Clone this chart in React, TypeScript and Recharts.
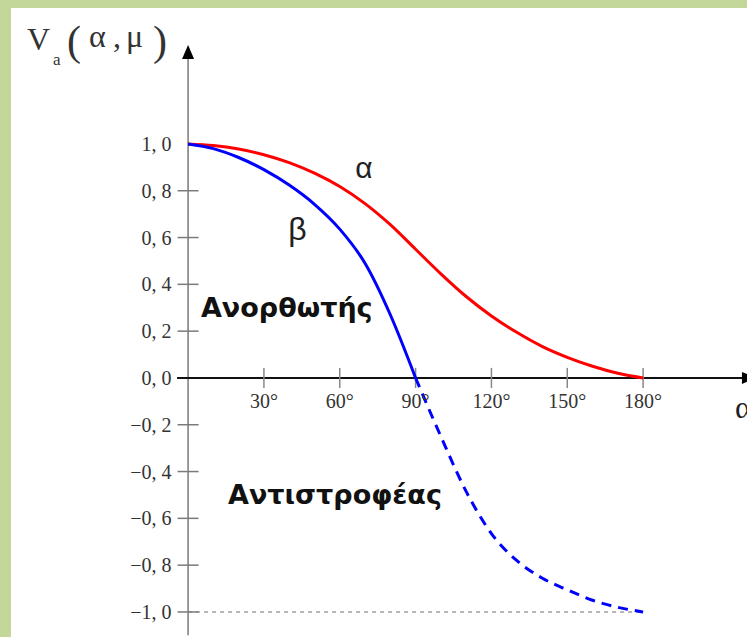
import React from "react";
import { LineChart, Line, XAxis, YAxis, ReferenceLine, ReferenceDot } from "recharts";

// firing angle (degrees)
const angles = [0, 10, 20, 30, 40, 50, 60, 70, 80, 90, 100, 110, 120, 130, 140, 150, 160, 170, 180];
// curve α (red)
const alphaCurve = [1.0, 0.993, 0.978, 0.954, 0.92, 0.875, 0.818, 0.745, 0.655, 0.55, 0.445, 0.348, 0.265, 0.195, 0.135, 0.088, 0.05, 0.02, 0];
// curve β, rectifier part 0°..90° (solid blue)
const rectifierAngles = [0, 10, 20, 30, 40, 50, 60, 70, 80, 90];
const betaRectifier = [1.0, 0.98, 0.942, 0.89, 0.824, 0.742, 0.636, 0.49, 0.27, 0];
// curve β, inverter part 90°..180° (dashed blue)
const inverterAngles = [90, 100, 110, 120, 130, 140, 150, 160, 170, 180];
const betaInverter = [0, -0.25, -0.485, -0.665, -0.78, -0.855, -0.905, -0.95, -0.98, -1.0];

const yTicks = [1, 0.8, 0.6, 0.4, 0.2, 0, -0.2, -0.4, -0.6, -0.8, -1];
const yTickLabels = ["1, 0", "0, 8", "0, 6", "0, 4", "0, 2", "0, 0", "−0, 2", "−0, 4", "−0, 6", "−0, 8", "−1, 0"];
const xTicks = [30, 60, 90, 120, 150, 180];
const xTickLabels = ["30°", "60°", "90°", "120°", "150°", "180°"];

const alphaData = angles.map((a, i) => ({ angle: a, v: alphaCurve[i] }));
const rectData = rectifierAngles.map((a, i) => ({ angle: a, v: betaRectifier[i] }));
const invData = inverterAngles.map((a, i) => ({ angle: a, v: betaInverter[i] }));

const serif = "'Liberation Serif', 'DejaVu Serif', serif";
const sans = "'DejaVu Sans', sans-serif";

const tickLabel = (value: string) => ({
  value,
  fill: "#333",
  fontSize: 20,
  fontFamily: serif,
});

const note = (content: React.ReactNode, style: any) => (props: any) => (
  <text x={props.cx} y={props.cy} {...style}>
    {content}
  </text>
);

// title V_a(α,μ), anchored at the baseline of the V
const title = (p: any) => (
  <text fontFamily={serif} fill="#333">
    <tspan x={p.cx} y={p.cy} fontSize={32}>V</tspan>
    <tspan x={p.cx + 26} y={p.cy + 15} fontSize={17}>a</tspan>
    <tspan x={p.cx + 40} y={p.cy + 5} fontSize={42}>(</tspan>
    <tspan x={p.cx + 62} y={p.cy - 3} fontSize={32}>α</tspan>
    <tspan x={p.cx + 86} y={p.cy - 3} fontSize={32}>,</tspan>
    <tspan x={p.cx + 99} y={p.cy - 3} fontSize={32}>μ</tspan>
    <tspan x={p.cx + 126} y={p.cy + 5} fontSize={42}>)</tspan>
  </text>
);

export default function App() {
  return (
    <div style={{ position: "absolute", left: 0, top: 0, width: 747, height: 637, background: "#c4d79b", overflow: "hidden" }}>
      <div style={{ position: "absolute", left: 11, top: 8, right: 0, bottom: 0, background: "#fff" }} />
      <div style={{ position: "absolute", left: 0, top: 0 }}>
        <LineChart width={747} height={637} margin={{ top: 0, right: 0, bottom: 0, left: 0 }}>
          <XAxis type="number" dataKey="angle" domain={[-74.4, 221.1]} allowDataOverflow hide />
          <YAxis type="number" dataKey="v" domain={[-1.107, 1.615]} allowDataOverflow hide />

          {/* axes */}
          <ReferenceLine segment={[{ x: 0, y: -1.1 }, { x: 0, y: 1.37 }]} stroke="#7a7a7a" strokeWidth={1.5} />
          <ReferenceLine segment={[{ x: -4.35, y: 0 }, { x: 219.5, y: 0 }]} stroke="#111" strokeWidth={2} />
          <ReferenceLine segment={[{ x: 0, y: -1 }, { x: 180, y: -1 }]} stroke="#a0a0a0" strokeWidth={1.5} strokeDasharray="4 4" />

          {yTicks.map((v, i) => (
            <ReferenceLine
              key={"y" + v}
              segment={[{ x: -4.15, y: v }, { x: 4.15, y: v }]}
              stroke="#7a7a7a"
              strokeWidth={1.5}
              strokeOpacity={v === 1 || v === 0 ? 0 : 1}
              label={{ ...tickLabel(yTickLabels[i]), position: "left", offset: 6 }}
            />
          ))}
          {xTicks.map((t, i) => (
            <ReferenceLine
              key={"x" + t}
              segment={[{ x: t, y: -0.043 }, { x: t, y: 0.043 }]}
              stroke="#888"
              strokeWidth={1.5}
              label={{ ...tickLabel(xTickLabels[i]), position: "bottom", offset: 6 }}
            />
          ))}

          <Line data={alphaData} type="monotone" dataKey="v" stroke="#ff0000" strokeWidth={3} dot={false} activeDot={false} isAnimationActive={false} />
          <Line data={rectData} type="monotone" dataKey="v" stroke="#0000ff" strokeWidth={3} dot={false} activeDot={false} isAnimationActive={false} />
          <Line data={invData} type="monotone" dataKey="v" stroke="#0000ff" strokeWidth={3} strokeDasharray="10 7" dot={false} activeDot={false} isAnimationActive={false} />

          {/* arrow heads */}
          <ReferenceDot x={0} y={1.423} shape={(p: any) => <polygon points={`${p.cx},${p.cy} ${p.cx - 6},${p.cy + 14} ${p.cx + 6},${p.cy + 14}`} fill="#000" />} />
          <ReferenceDot x={219.1} y={0} shape={(p: any) => <polygon points={`${p.cx},${p.cy - 6} ${p.cx + 14},${p.cy} ${p.cx},${p.cy + 6}`} fill="#000" />} />

          {/* annotations */}
          <ReferenceDot x={66.1} y={0.855} shape={note("α", { fontSize: 30, fontFamily: "'Liberation Sans', sans-serif", fill: "#222" })} />
          <ReferenceDot x={39.6} y={0.59} shape={note("β", { fontSize: 32, fontFamily: "'Liberation Sans', sans-serif", fill: "#222" })} />
          <ReferenceDot x={5.1} y={0.26} shape={note("Ανορθωτής", { fontSize: 27, fontWeight: "bold", fontFamily: sans, fill: "#111" })} />
          <ReferenceDot x={15.8} y={-0.54} shape={note("Αντιστροφέας", { fontSize: 27, fontWeight: "bold", fontFamily: sans, fill: "#111" })} />
          <ReferenceDot x={216.4} y={-0.171} shape={note("α", { fontSize: 32, fontFamily: serif, fill: "#222" })} />
          <ReferenceDot x={-63.7} y={1.402} shape={title} />
        </LineChart>
      </div>
    </div>
  );
}
